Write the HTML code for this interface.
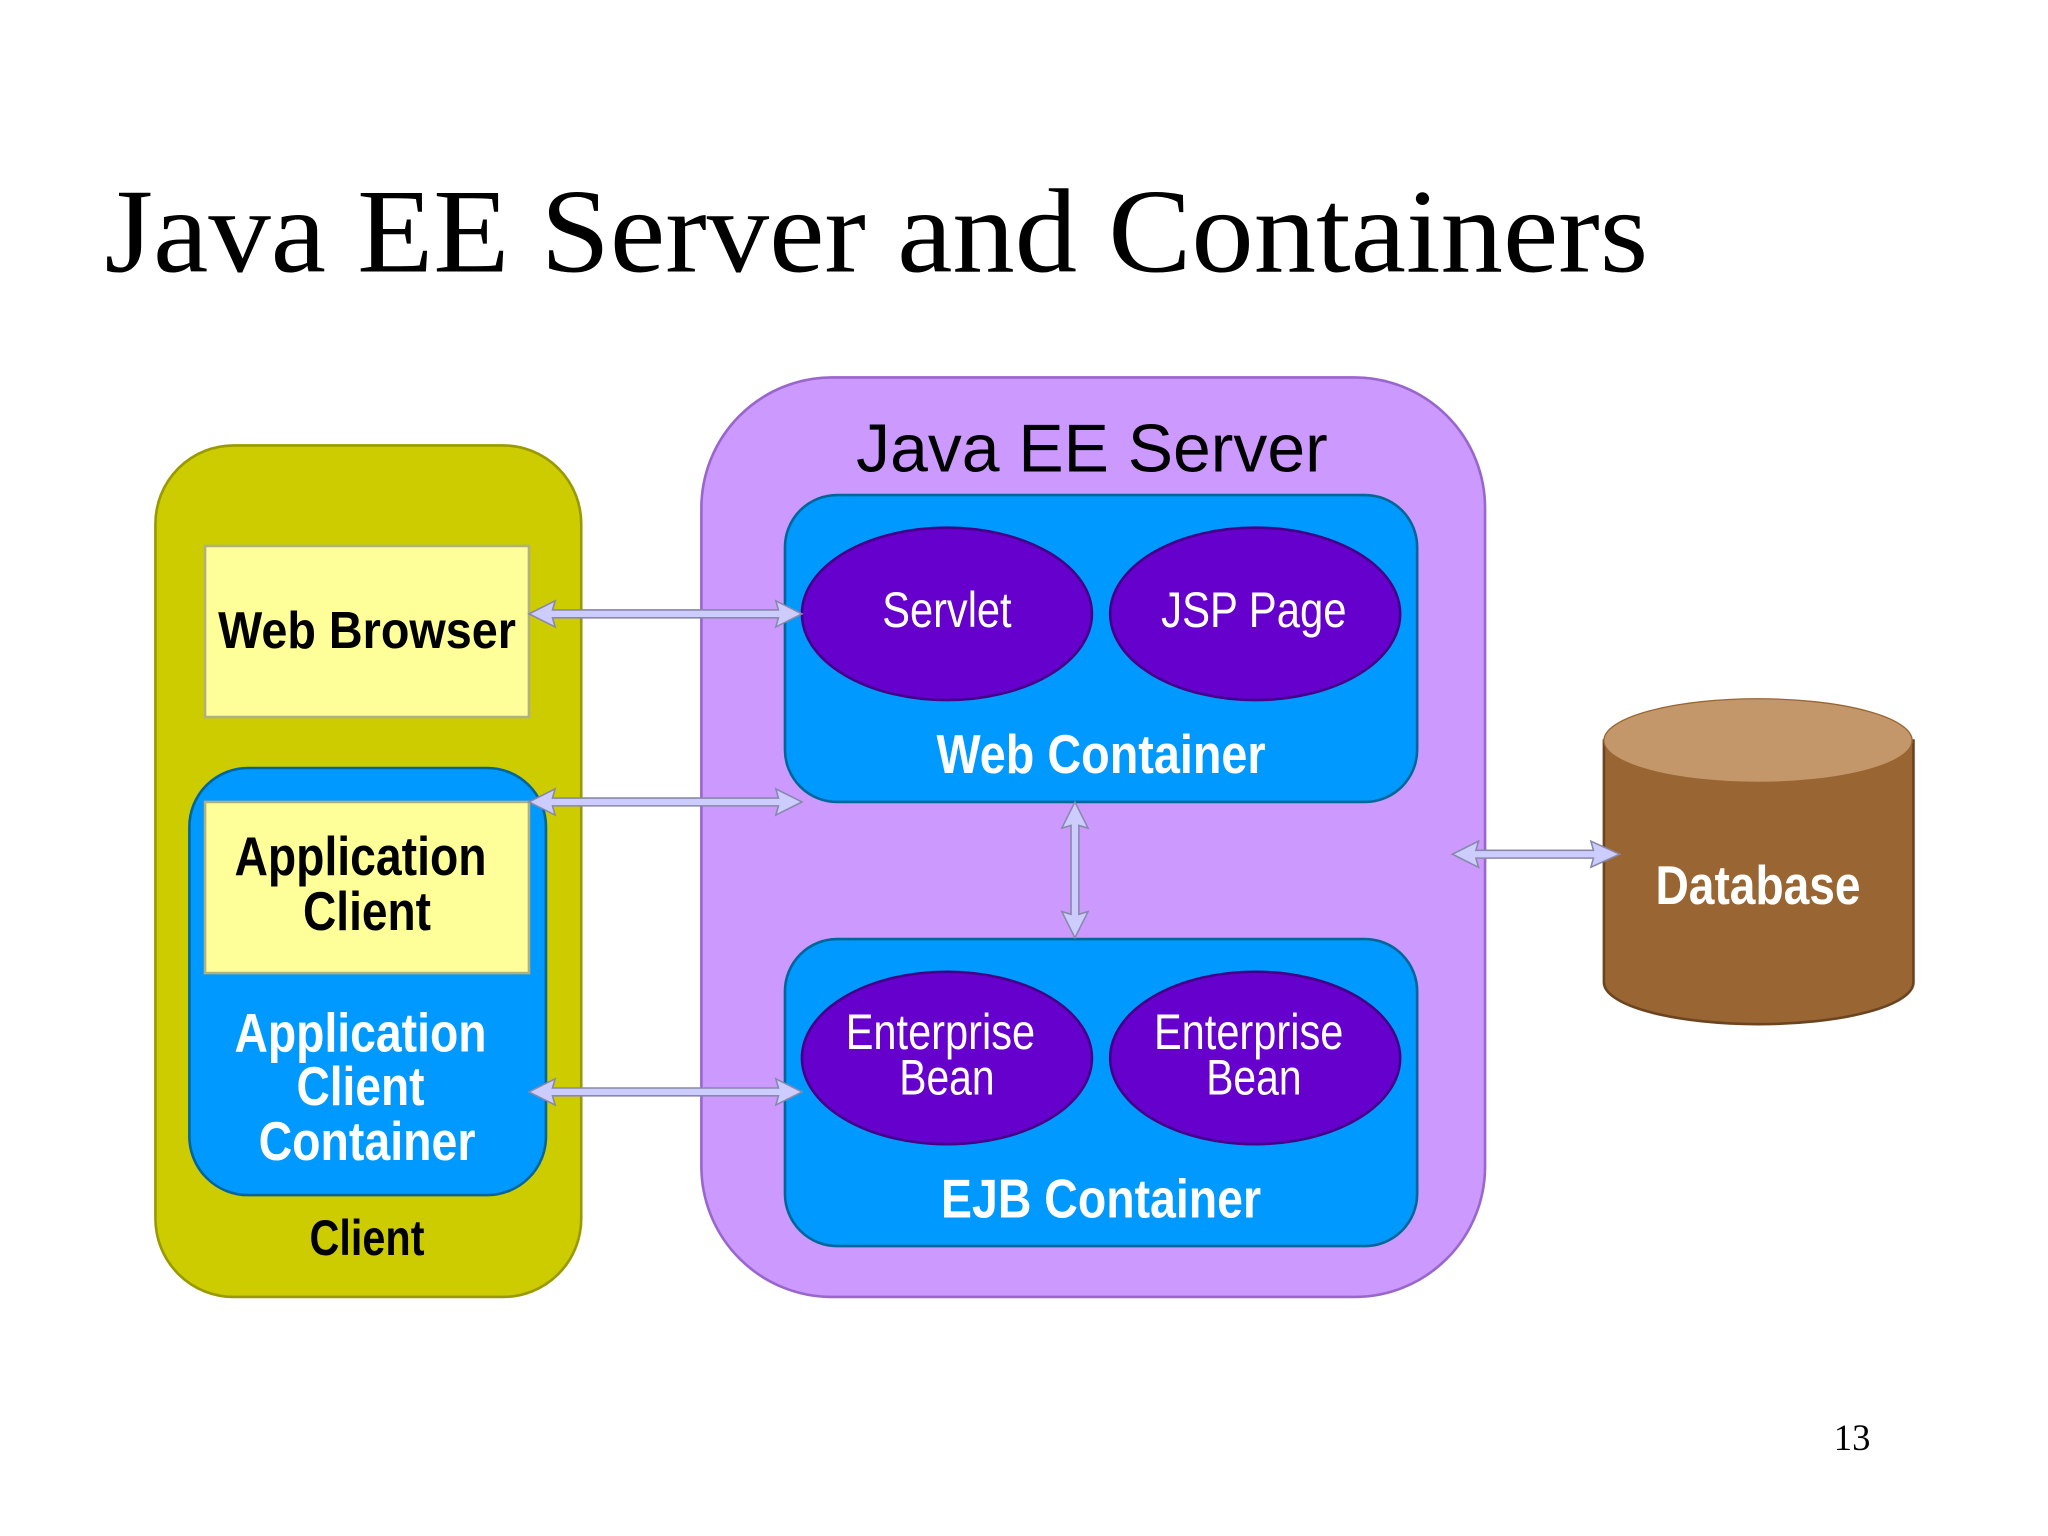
<!DOCTYPE html>
<html><head><meta charset="utf-8"><style>
html,body{margin:0;padding:0;background:#fff;}
svg{display:block;}
.n{font-family:"Liberation Sans",sans-serif;}
</style></head><body>
<svg width="2048" height="1536" viewBox="0 0 1568 1176" preserveAspectRatio="none" xmlns="http://www.w3.org/2000/svg">
<rect width="1568" height="1176" fill="#fff"/>
<text x="80" y="208" font-family="Liberation Serif,serif" font-size="92" textLength="1182" lengthAdjust="spacingAndGlyphs" fill="#000">Java EE Server and Containers</text>

<!-- Client -->
<rect x="119" y="341" width="326" height="652" rx="60" fill="#cccc00" stroke="#999900" stroke-width="2"/>
<rect x="157" y="418" width="248" height="131" fill="#ffff99" stroke="#b0b080" stroke-width="2"/>
<rect x="145" y="588" width="273" height="327" rx="45" fill="#0099ff" stroke="#006699" stroke-width="2"/>
<rect x="157" y="614" width="248" height="131" fill="#ffff99" stroke="#b0b080" stroke-width="2"/>
<g class="n" font-size="42" font-weight="bold" text-anchor="middle" lengthAdjust="spacingAndGlyphs">
<text x="281" y="496" font-size="40" textLength="228" lengthAdjust="spacingAndGlyphs">Web Browser</text>
<text x="276" y="670" textLength="193" lengthAdjust="spacingAndGlyphs">Application</text>
<text x="281" y="712" textLength="98" lengthAdjust="spacingAndGlyphs">Client</text>
<g fill="#fff"><text x="276" y="805" textLength="193" lengthAdjust="spacingAndGlyphs">Application</text><text x="276" y="846" textLength="98" lengthAdjust="spacingAndGlyphs">Client</text><text x="281" y="888" textLength="166" lengthAdjust="spacingAndGlyphs">Container</text></g>
<text x="281" y="961" font-size="38" textLength="88" lengthAdjust="spacingAndGlyphs">Client</text>
</g>

<!-- Server -->
<rect x="537" y="289" width="600" height="704" rx="100" fill="#cc99ff" stroke="#9966cc" stroke-width="2"/>
<text class="n" x="836" y="361" font-size="52" text-anchor="middle" textLength="361" lengthAdjust="spacingAndGlyphs">Java EE Server</text>
<rect x="601" y="379" width="484" height="235" rx="40" fill="#0099ff" stroke="#006699" stroke-width="2"/>
<rect x="601" y="719" width="484" height="235" rx="40" fill="#0099ff" stroke="#006699" stroke-width="2"/>
<g fill="#6600cc" stroke="#440088" stroke-width="2">
<ellipse cx="725" cy="470" rx="111" ry="66"/><ellipse cx="961" cy="470" rx="111" ry="66"/>
<ellipse cx="725" cy="810" rx="111" ry="66"/><ellipse cx="961" cy="810" rx="111" ry="66"/>
</g>
<g class="n" fill="#fff" font-size="38" text-anchor="middle">
<text x="725" y="480" textLength="99" lengthAdjust="spacingAndGlyphs">Servlet</text><text x="960" y="480" textLength="142" lengthAdjust="spacingAndGlyphs">JSP Page</text>
<text x="720" y="803" textLength="145" lengthAdjust="spacingAndGlyphs">Enterprise</text><text x="725" y="838" textLength="73" lengthAdjust="spacingAndGlyphs">Bean</text>
<text x="956" y="803" textLength="145" lengthAdjust="spacingAndGlyphs">Enterprise</text><text x="960" y="838" textLength="73" lengthAdjust="spacingAndGlyphs">Bean</text>
<g font-weight="bold" font-size="42"><text x="843" y="592" textLength="252" lengthAdjust="spacingAndGlyphs">Web Container</text><text x="843" y="932" textLength="245" lengthAdjust="spacingAndGlyphs">EJB Container</text></g>
</g>

<!-- Database -->
<path d="M1228 567 L1228 752 A118 32 0 0 0 1465 752 L1465 567 Z" fill="#996633" stroke="#6b4420" stroke-width="2"/>
<ellipse cx="1346" cy="567" rx="118" ry="32" fill="#c4976b" stroke="#996633" stroke-width="1"/>
<text class="n" x="1346" y="692" font-size="42" font-weight="bold" fill="#fff" text-anchor="middle" textLength="157" lengthAdjust="spacingAndGlyphs">Database</text>

<!-- arrows -->
<g fill="#ccccff" stroke="#8888aa" stroke-width="1.2">
<path d="M405 470 L425 460 L423 467 L596 467 L594 460 L614 470 L594 480 L596 473 L423 473 L425 480 Z"/>
<path d="M405 614 L425 604 L423 611 L596 611 L594 604 L614 614 L594 624 L596 617 L423 617 L425 624 Z"/>
<path d="M405 836 L425 826 L423 833 L596 833 L594 826 L614 836 L594 846 L596 839 L423 839 L425 846 Z"/>
<path d="M1112 654 L1132 644 L1130 651 L1220 651 L1218 644 L1240 654 L1218 664 L1220 657 L1130 657 L1132 664 Z"/>
<path d="M823 614 L833 634 L826 632 L826 700 L833 698 L823 718 L813 698 L820 700 L820 632 L813 634 Z"/>
</g>
<text x="1418" y="1110" font-family="Liberation Serif,serif" font-size="28" text-anchor="middle">13</text>
</svg>
</body></html>
